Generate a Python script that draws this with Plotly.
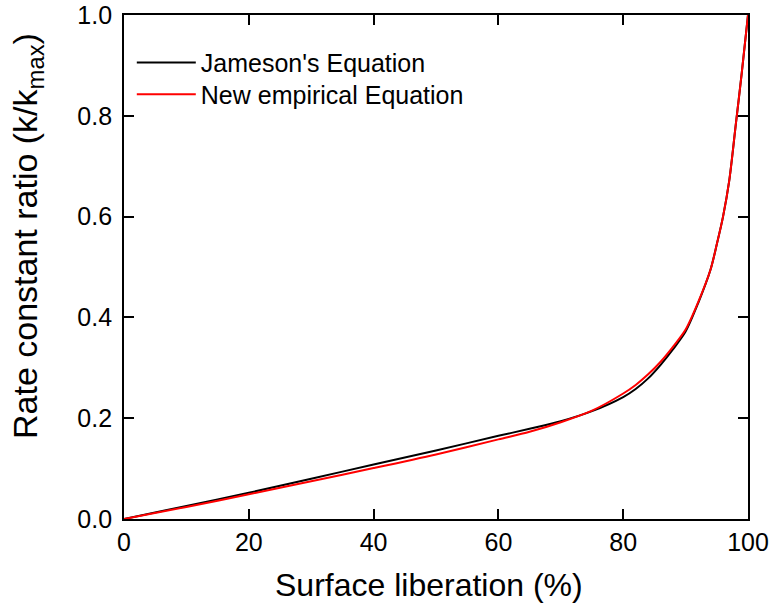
import plotly.graph_objects as go

liberation = [0, 10, 20, 30, 40, 50, 60, 65, 70, 75, 80, 82, 84, 86, 88, 90, 92, 94, 95, 96, 97, 98, 99, 100]
jameson = [0, 0.026, 0.052, 0.080, 0.108, 0.136, 0.165, 0.179, 0.194, 0.214, 0.242, 0.258, 0.279, 0.306,
           0.337, 0.372, 0.428, 0.495, 0.545, 0.600, 0.672, 0.778, 0.885, 1.0]
empirical = [0, 0.024, 0.049, 0.075, 0.101, 0.128, 0.158, 0.173, 0.192, 0.215, 0.249, 0.266, 0.287, 0.312,
             0.342, 0.376, 0.430, 0.495, 0.545, 0.600, 0.672, 0.778, 0.885, 1.0]

x_ticks = [0, 20, 40, 60, 80, 100]
y_ticks = [0.0, 0.2, 0.4, 0.6, 0.8, 1.0]

x_title = "Surface liberation (%)"
y_title = "Rate constant ratio (k/k<sub>max</sub>)"

FONT = "Liberation Sans, Arial, sans-serif"

fig = go.Figure()
fig.add_trace(go.Scatter(x=liberation, y=jameson, mode="lines", name="Jameson's Equation",
                         legend="legend",
                         line=dict(color="black", width=2, shape="spline", smoothing=0.8)))
fig.add_trace(go.Scatter(x=liberation, y=empirical, mode="lines", name="New empirical Equation",
                         legend="legend2",
                         line=dict(color="#ff0000", width=2, shape="spline", smoothing=0.8)))

axis_common = dict(showline=True, linecolor="black", linewidth=1.8, mirror="ticks",
                   ticks="inside", ticklen=10, tickwidth=1.8, tickcolor="black",
                   showgrid=False, zeroline=False, automargin=False,
                   tickfont=dict(family=FONT, size=25, color="black"))

fig.update_xaxes(range=[0, 100], tickvals=x_ticks, ticktext=[str(v) for v in x_ticks], **axis_common)
fig.update_yaxes(range=[0, 1.0], tickvals=y_ticks, ticktext=[f"{v:.1f}" for v in y_ticks],
                 ticklabelstandoff=5, **axis_common)

leg_common = dict(xanchor="left", yanchor="top", bgcolor="rgba(0,0,0,0)",
                  font=dict(family=FONT, size=25, color="black"), itemwidth=59)

fig.update_layout(
    width=772, height=608,
    margin=dict(l=124, r=24, t=15, b=89),
    plot_bgcolor="white", paper_bgcolor="white",
    font=dict(family=FONT, color="black"),
    legend=dict(x=0.0125, y=0.951, **leg_common),
    legend2=dict(x=0.0125, y=0.888, **leg_common),
    showlegend=True,
    annotations=[
        dict(text=x_title, xref="paper", yref="paper", x=0.4888, y=-0.130,
             xanchor="center", yanchor="middle", showarrow=False,
             font=dict(family=FONT, size=32, color="black")),
        dict(text=y_title, xref="paper", yref="paper", x=-0.155, y=0.562,
             xanchor="center", yanchor="middle", showarrow=False, textangle=-90,
             font=dict(family=FONT, size=34, color="black")),
    ],
)

fig.write_html("out.html")
